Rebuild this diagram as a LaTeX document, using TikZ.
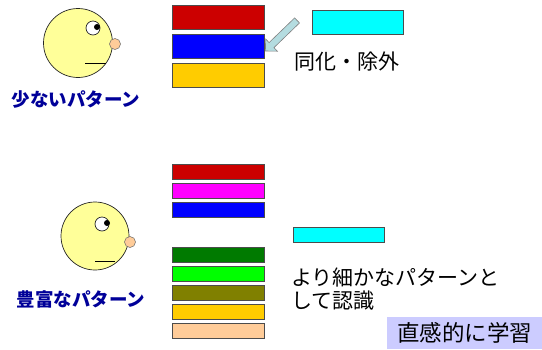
\documentclass[tikz,border=0pt]{standalone}
\usepackage{fontspec}
\setmainfont{Noto Sans CJK JP}
\usetikzlibrary{shapes.arrows}

\definecolor{facey}{HTML}{FFFF99}
\definecolor{nosec}{HTML}{FFCC99}
\definecolor{navy}{HTML}{000099}
\definecolor{barred}{HTML}{CC0000}
\definecolor{barblue}{HTML}{0000FF}
\definecolor{baryellow}{HTML}{FFCC00}
\definecolor{barmag}{HTML}{FF00FF}
\definecolor{bardkgreen}{HTML}{007A00}
\definecolor{bargreen}{HTML}{00FF00}
\definecolor{barolive}{HTML}{808000}
\definecolor{barpeach}{HTML}{FFCC99}
\definecolor{cyanbar}{HTML}{00FFFF}
\definecolor{arrowc}{HTML}{B4DCE0}
\definecolor{lav}{HTML}{CCCCFF}

\begin{document}
\begin{tikzpicture}[x=1pt,y=-1pt,
  bar/.style={draw=black!70,line width=.7pt},
  face/.style={fill=facey,draw=black!85,line width=.7pt},
  nose/.style={fill=nosec,draw=black!60,line width=.5pt},
  eye/.style={fill=white,draw=black!85,line width=.7pt},
  patlabel/.style={text=navy,font=\bfseries\fontsize{18.5}{20}\selectfont,inner sep=0pt},
  txt/.style={font=\fontsize{21}{23}\selectfont,inner sep=0pt}]
  \useasboundingbox (0,0) rectangle (542,349);

  % few patterns
  \begin{scope}
    \filldraw[face] (78,43) circle[radius=34.5pt];
    \filldraw[nose] (115,44) circle[radius=5.5pt];
    \filldraw[eye] (93,28) circle[radius=7pt];
    \fill (97,27) circle[radius=3pt];
    \draw[line width=.8pt] (85,63)--(106,63);
    \node[patlabel] (few) at (76,100) {少ないパターン};
  \end{scope}
  \foreach \c [count=\i from 0] in {barred,barblue,baryellow}
    \filldraw[bar,fill=\c] (172,5+29*\i) rectangle ++(92,24);
  \filldraw[bar,fill=cyanbar] (312,10) rectangle (403,34);
  \node[single arrow,fill=arrowc,draw=black!50,line width=.6pt,
    inner sep=3.2pt,single arrow head extend=5pt,
    minimum height=44pt,rotate=224] (push) at (282.5,34.5) {};
  \node[txt,anchor=west] (merge) at (294,62) {同化・除外};

  % rich patterns
  \begin{scope}
    \filldraw[face] (95,236) circle[radius=34pt];
    \filldraw[nose] (130,242) circle[radius=5.5pt];
    \filldraw[eye] (102,224) circle[radius=7pt];
    \fill (107,223) circle[radius=3pt];
    \draw[line width=.8pt] (95,261)--(115,261);
    \node[patlabel] (rich) at (81,299) {豊富なパターン};
  \end{scope}
  \foreach \c [count=\i from 0] in {barred,barmag,barblue}
    \filldraw[bar,fill=\c] (172,164+19.4*\i) rectangle ++(92,15);
  \foreach \c [count=\i from 0] in {bardkgreen,bargreen,barolive,baryellow,barpeach}
    \filldraw[bar,fill=\c] (172,247+19.2*\i) rectangle ++(92,15);
  \filldraw[bar,fill=cyanbar] (293,227) rectangle (384,242);
  \node[txt,align=left,anchor=north west] (finer) at (291,268)
    {より細かなパターンと\\して認識};
  \node[fill=lav,minimum width=155pt,minimum height=32pt,inner sep=0pt,
    font=\fontsize{22.5}{24}\selectfont] (learn) at (464.5,333) {直感的に学習};
\end{tikzpicture}
\end{document}
